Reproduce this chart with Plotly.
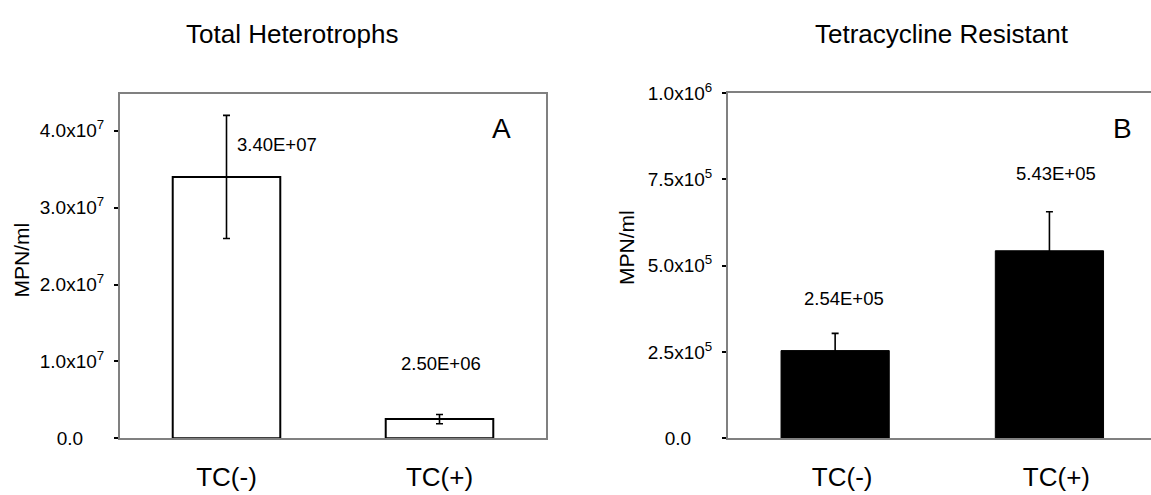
import plotly.graph_objects as go

# Most-probable-number counts (MPN/ml) with standard deviations
categories = ["TC(-)", "TC(+)"]
heterotrophs = [3.40e7, 2.50e6]
heterotrophs_err = [0.80e7, 0.60e6]
resistant = [2.54e5, 5.43e5]
resistant_err = [0.50e5, 1.13e5]

het_tickvals = [0, 1e7, 2e7, 3e7, 4e7]
het_ticktext = ["0.0", "1.0x10<sup>7</sup>", "2.0x10<sup>7</sup>",
                "3.0x10<sup>7</sup>", "4.0x10<sup>7</sup>"]
res_tickvals = [0, 2.5e5, 5.0e5, 7.5e5, 1.0e6]
res_ticktext = ["0.0", "2.5x10<sup>5</sup>", "5.0x10<sup>5</sup>",
                "7.5x10<sup>5</sup>", "1.0x10<sup>6</sup>"]

FONT = "Liberation Sans, Arial, Helvetica, sans-serif"
W, H = 1151, 495
AXIS_GREY = "#808080"


def pad_zero(labels):
    # plain "0.0" sits centred under the wider powers-of-ten labels
    return [t + "\u00a0" * 4 if "sup" not in t else t for t in labels]


fig = go.Figure()

fig.add_trace(go.Bar(
    x=categories, y=heterotrophs, width=0.505,
    marker=dict(color="white", line=dict(color="black", width=2)),
    error_y=dict(type="data", array=heterotrophs_err, color="black",
                 thickness=1.6, width=3.5),
    xaxis="x", yaxis="y", showlegend=False, hoverinfo="skip",
))
fig.add_trace(go.Bar(
    x=categories, y=resistant, width=0.505,
    marker=dict(color="black", line=dict(color="black", width=1)),
    error_y=dict(type="data", array=resistant_err, color="black",
                 thickness=1.6, width=3.5),
    xaxis="x2", yaxis="y2", showlegend=False, hoverinfo="skip",
))

common_x = dict(type="category", showgrid=False, zeroline=False,
                showline=True, linecolor=AXIS_GREY, linewidth=2,
                mirror=True, ticks="", tickfont=dict(family=FONT, size=26, color="black"),
                ticklabelstandoff=14)
common_y = dict(showgrid=False, zeroline=False, showline=True,
                linecolor=AXIS_GREY, linewidth=2, ticks="outside",
                ticklen=4, tickwidth=1.5, tickcolor="black",
                tickfont=dict(family=FONT, size=19, color="black"),
                ticklabelstandoff=6)

fig.update_layout(
    width=W, height=H,
    margin=dict(l=0, r=0, t=0, b=0),
    paper_bgcolor="white", plot_bgcolor="white",
    bargap=0.5,
    xaxis=dict(common_x, domain=[120 / W, 546 / W], range=[-0.5, 1.5], anchor="y"),
    yaxis=dict(common_y, domain=[1 - 447 / H, 1 - 85 / H], range=[0, 4.48e7],
               mirror=True, tickvals=het_tickvals, ticktext=pad_zero(het_ticktext),
               anchor="x"),
    xaxis2=dict(common_x, domain=[728 / W, 1.0], range=[-0.5, 1.474], anchor="y2",
                ticklabelshift=7),
    yaxis2=dict(common_y, domain=[1 - 447 / H, 1 - 84 / H], range=[0, 1.0e6],
                mirror=False, tickvals=res_tickvals, ticktext=pad_zero(res_ticktext),
                anchor="x2"),
)

annotations = []


def note(x, y, text, font, **kw):
    return dict(x=x, y=y, text=text, showarrow=False, font=font,
                xanchor="center", yanchor="middle", **kw)


# value labels above/beside each bar
label_font = dict(family=FONT, size=18.5, color="black")
for cat, val, dx, dy in zip(categories, heterotrophs, [50, 1.5], [32, 56]):
    annotations.append(note(cat, val, f"{val:.2E}", label_font,
                            xref="x", yref="y", xshift=dx, yshift=dy))
for cat, val, dx, dy in zip(categories, resistant, [9, 6.5], [52, 77]):
    annotations.append(note(cat, val, f"{val:.2E}", label_font,
                            xref="x2", yref="y2", xshift=dx, yshift=dy))

# panel titles
title_font = dict(family=FONT, size=26, color="black")
annotations.append(note(291.5 / W, 1 - 22 / H, "Total Heterotrophs", title_font,
                        xref="paper", yref="paper"))
annotations.append(note(942 / W, 1 - 22 / H, "Tetracycline Resistant", title_font,
                        xref="paper", yref="paper"))

# panel letters
letter_font = dict(family=FONT, size=28, color="black")
annotations.append(note(501.7 / W, 1 - 121 / H, "A", letter_font,
                        xref="paper", yref="paper"))
annotations.append(note(1122 / W, 1 - 121 / H, "B", letter_font,
                        xref="paper", yref="paper"))

# y-axis titles
ylab_font = dict(family=FONT, size=21, color="black")
annotations.append(note(21 / W, 1 - 260 / H, "MPN/ml", ylab_font,
                        xref="paper", yref="paper", textangle=-90))
annotations.append(note(626 / W, 1 - 247 / H, "MPN/ml", ylab_font,
                        xref="paper", yref="paper", textangle=-90))

fig.update_layout(annotations=annotations)

fig.write_html("out.html")
